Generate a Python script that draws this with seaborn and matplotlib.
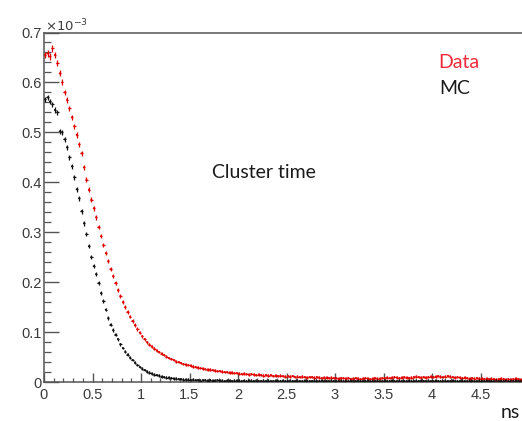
import numpy as np
import pandas as pd
import matplotlib
matplotlib.use("Agg")
import matplotlib.pyplot as plt
from matplotlib.ticker import MultipleLocator, FuncFormatter
import seaborn as sns

# ---- data (units of 1e-3), 200 bins of 0.025 ns from 0 to 5 ns ----
bin_lo, bin_hi, n_bins = 0.0, 5.0, 200

data_vals = [
    0.655, 0.658, 0.652, 0.668, 0.655, 0.638, 0.618, 0.600, 0.580, 0.565,
    0.548, 0.530, 0.512, 0.495, 0.476, 0.458, 0.430, 0.405, 0.385, 0.365,
    0.348, 0.330, 0.310, 0.292, 0.274, 0.258, 0.242, 0.226, 0.212, 0.198,
    0.184, 0.172, 0.160, 0.150, 0.140, 0.131, 0.122, 0.114, 0.106, 0.099,
    0.092, 0.086, 0.080, 0.075, 0.071, 0.067, 0.063, 0.060, 0.057, 0.054,
    0.051, 0.048, 0.046, 0.044, 0.041, 0.040, 0.038, 0.036, 0.035, 0.034,
    0.033, 0.031, 0.030, 0.029, 0.028, 0.027, 0.026, 0.025, 0.025, 0.024,
    0.023, 0.022, 0.022, 0.021, 0.020, 0.020, 0.019, 0.019, 0.018, 0.018,
    0.017, 0.016, 0.017, 0.016, 0.015, 0.016, 0.015, 0.014, 0.015, 0.014,
    0.013, 0.014, 0.013, 0.014, 0.012, 0.013, 0.012, 0.013, 0.012, 0.011,
    0.012, 0.011, 0.012, 0.010, 0.011, 0.010, 0.011, 0.010, 0.009, 0.010,
    0.010, 0.009, 0.010, 0.009, 0.008, 0.009, 0.009, 0.008, 0.009, 0.008,
    0.008, 0.007, 0.008, 0.008, 0.007, 0.008, 0.006, 0.007, 0.008, 0.007,
    0.006, 0.007, 0.008, 0.007, 0.006, 0.007, 0.008, 0.007, 0.007, 0.008,
    0.008, 0.009, 0.008, 0.009, 0.010, 0.009, 0.008, 0.009, 0.010, 0.009,
    0.008, 0.009, 0.010, 0.011, 0.010, 0.009, 0.010, 0.009, 0.010, 0.011,
    0.010, 0.011, 0.012, 0.011, 0.010, 0.011, 0.012, 0.011, 0.010, 0.009,
    0.010, 0.009, 0.008, 0.009, 0.008, 0.007, 0.008, 0.007, 0.008, 0.007,
    0.007, 0.006, 0.007, 0.006, 0.007, 0.006, 0.005, 0.006, 0.007, 0.006,
    0.005, 0.006, 0.005, 0.006, 0.007, 0.006, 0.005, 0.006, 0.005, 0.006,
]

mc_vals = [
    0.566, 0.570, 0.562, 0.556, 0.545, 0.540, 0.502, 0.500, 0.486, 0.470,
    0.450, 0.432, 0.410, 0.386, 0.368, 0.342, 0.318, 0.296, 0.272, 0.250,
    0.232, 0.216, 0.198, 0.178, 0.162, 0.145, 0.128, 0.115, 0.104, 0.095,
    0.086, 0.076, 0.068, 0.061, 0.055, 0.049, 0.044, 0.039, 0.034, 0.030,
    0.027, 0.024, 0.021, 0.019, 0.017, 0.015, 0.014, 0.013, 0.011, 0.010,
    0.009, 0.009, 0.008, 0.007, 0.007, 0.006, 0.006, 0.005, 0.005, 0.005,
    0.004, 0.005, 0.004, 0.004, 0.003, 0.004, 0.004, 0.003, 0.004, 0.003,
    0.003, 0.004, 0.003, 0.003, 0.002, 0.003, 0.003, 0.002, 0.003, 0.003,
    0.003, 0.002, 0.003, 0.002, 0.003, 0.003, 0.002, 0.003, 0.002, 0.002,
    0.003, 0.002, 0.003, 0.002, 0.002, 0.003, 0.002, 0.002, 0.003, 0.002,
    0.002, 0.003, 0.002, 0.002, 0.003, 0.002, 0.002, 0.003, 0.002, 0.002,
    0.002, 0.003, 0.002, 0.002, 0.003, 0.002, 0.002, 0.002, 0.003, 0.002,
    0.002, 0.002, 0.003, 0.002, 0.002, 0.002, 0.003, 0.002, 0.002, 0.003,
    0.002, 0.002, 0.002, 0.003, 0.002, 0.002, 0.002, 0.003, 0.002, 0.002,
    0.003, 0.002, 0.002, 0.003, 0.002, 0.002, 0.003, 0.002, 0.002, 0.002,
    0.003, 0.002, 0.002, 0.003, 0.002, 0.003, 0.002, 0.002, 0.003, 0.002,
    0.002, 0.003, 0.002, 0.002, 0.002, 0.003, 0.002, 0.002, 0.003, 0.002,
    0.002, 0.002, 0.003, 0.002, 0.002, 0.003, 0.002, 0.002, 0.002, 0.003,
    0.002, 0.002, 0.003, 0.002, 0.002, 0.002, 0.003, 0.002, 0.002, 0.002,
    0.003, 0.002, 0.002, 0.002, 0.003, 0.002, 0.002, 0.003, 0.002, 0.002,
]

series_names = ["Data", "MC"]
x_ticks_major = [0, 0.5, 1, 1.5, 2, 2.5, 3, 3.5, 4, 4.5]
y_ticks_major = [0, 0.1, 0.2, 0.3, 0.4, 0.5, 0.6, 0.7]

# ---- build table ----
edges = np.linspace(bin_lo, bin_hi, n_bins + 1)
centers = 0.5 * (edges[:-1] + edges[1:])
half_w = 0.5 * (edges[1] - edges[0])
df = pd.DataFrame({
    "t": np.concatenate([centers, centers]),
    "v": np.concatenate([data_vals, mc_vals]),
    "sample": [series_names[0]] * n_bins + [series_names[1]] * n_bins,
})
df["err"] = np.sqrt(df["v"] * 5e-5 + 5e-6)

sns.set_style("white")
plt.rcParams["font.family"] = ["Liberation Sans", "DejaVu Sans"]

W, H = 522, 421
fig = plt.figure(figsize=(W / 100, H / 100), dpi=100)
x0, x5 = 44, 529
y0, y7 = 382, 32.5
ax = fig.add_axes([x0 / W, 1 - y0 / H, (x5 - x0) / W, (y0 - y7) / H])

colors = {"Data": "#e00000", "MC": "#111111"}
for name in ["MC", "Data"]:
    sub = df[df["sample"] == name]
    ax.errorbar(sub["t"], sub["v"], yerr=sub["err"], xerr=half_w,
                fmt="none", ecolor=colors[name], elinewidth=0.9,
                capsize=0, zorder=3)
sns.scatterplot(data=df, x="t", y="v", hue="sample", palette=colors,
                s=2, linewidth=0, legend=False, ax=ax, zorder=4)

ax.set_xlim(0, 5)
ax.set_ylim(0, 0.7)
ax.set_xlabel("")
ax.set_ylabel("")

axis_col = "#555555"
for side in ["left", "bottom", "top"]:
    ax.spines[side].set_visible(True)
    ax.spines[side].set_color(axis_col)
    ax.spines[side].set_linewidth(1.1)
ax.spines["right"].set_visible(False)

ax.set_xticks(x_ticks_major)
ax.set_yticks(y_ticks_major)
ax.xaxis.set_minor_locator(MultipleLocator(0.1))
ax.yaxis.set_minor_locator(MultipleLocator(0.02))
fmt = FuncFormatter(lambda v, p: ("%g" % round(v, 3)))
ax.xaxis.set_major_formatter(fmt)
ax.yaxis.set_major_formatter(fmt)
ax.tick_params(axis="x", which="major", direction="in", length=6.5, width=1.0,
               color=axis_col, labelsize=10.5, labelcolor="#3a3a3a", pad=4,
               top=False, bottom=True)
ax.tick_params(axis="x", which="minor", direction="in", length=3.2, width=0.9,
               color=axis_col, top=False, bottom=True)
ax.tick_params(axis="y", which="major", direction="in", length=10.8, width=1.0,
               color=axis_col, labelsize=10.5, labelcolor="#3a3a3a", pad=1.5,
               left=True, right=False)
ax.tick_params(axis="y", which="minor", direction="in", length=5, width=0.9,
               color=axis_col, left=True, right=False)

# exponent label
fig.text(45 / W, 1 - 31 / H, r"$\times10^{-3}$", fontsize=9.5,
         color="#3a3a3a", ha="left", va="baseline")

txt_font = ["Lato", "DejaVu Sans"]
fig.text(438 / W, 1 - 62 / H, "Data", color="#ee2a3a", fontsize=14,
         family=txt_font, ha="left", va="center")
fig.text(439 / W, 1 - 89 / H, "MC", color="#1a1a1a", fontsize=14,
         family=txt_font, ha="left", va="center")
fig.text(212 / W, 1 - 172 / H, "Cluster time", color="#1a1a1a", fontsize=14,
         family=txt_font, ha="left", va="center")
fig.text(501 / W, 1 - 412 / H, "ns", color="#1a1a1a", fontsize=14,
         family=txt_font, ha="left", va="center")

fig.savefig("out.png", dpi=100)
